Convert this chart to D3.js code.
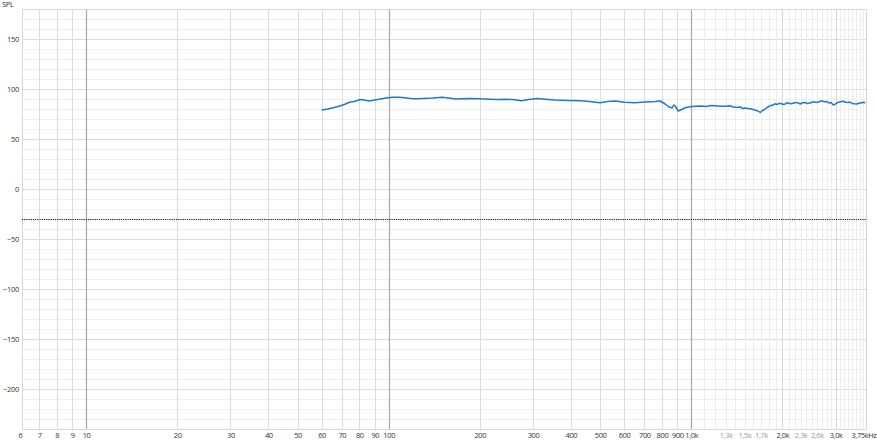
<!DOCTYPE html>
<html><head><meta charset="utf-8">
<script src="https://cdn.jsdelivr.net/npm/d3@7"></script>
<style>
html,body{margin:0;padding:0;background:#fff;}
svg{display:block;font-family:"Noto Sans","DejaVu Sans",sans-serif;}
</style></head><body>
<svg id="c" width="877" height="444"></svg>
<script>
// ---- data ----
const freqs = [60,63,66,69,72,74.6,77,80.5,83,86,90,94,98,103,108,113,118,122,130,140,150,158,166,175,185,200,215,228,245,262,275,290,310,330,355,390,430,460,500,530,561,600,653,700,760,790,820,845,865,875,885,906,930,955,1000,1040,1071,1120,1160,1200,1250,1300,1340,1377,1420,1450,1480,1508,1540,1580,1610,1640,1670,1690,1710,1730,1760,1780,1820,1866,1890,1920,1950,1980,2010,2045,2070,2100,2140,2180,2230,2293,2330,2380,2420,2472,2510,2560,2610,2669,2710,2750,2800,2850,2900,2946,3000,3050,3110,3178,3240,3300,3350,3400,3460,3536,3590,3650,3700,3760];
const spl   = [79,80,81.5,83,85,87,87.5,89.5,89,88,89,90,91,91.7,91.8,91.3,90.6,90.2,90.5,91,91.7,91,90,90.3,90.6,90.3,89.8,89.5,89.8,89.2,88.2,89.5,90.5,89.8,89,88.6,88.3,87.5,86.3,87.5,88,86.8,86.3,87,87.5,88,85,82,81,84,83,78,79.5,81.3,82.5,82.8,83,82.6,83.4,83.3,82.7,82.8,83.3,82,81.6,82.2,80.5,81,80.4,80,79.2,78.5,77.6,76.5,77.8,79,80.2,81.5,83.2,84,85.2,84.5,85.6,85.5,84.6,85,86.2,85.8,85.2,86,86.6,85,86.3,86.5,85.6,86,87.1,87,86.6,87.7,88.2,87.2,87.6,86,86.4,84,85.2,86.5,87.2,87.7,86.8,86.5,86.9,85.5,85.2,85,86.1,86,86.8,86.3];
const refLevel = -30;
const yTicks = [150,100,50,0,-50,-100,-150,-200];
const xTickVals = [6,7,8,9,10,20,30,40,50,60,70,80,90,100,200,300,400,500,600,700,800,900,1000,1300,1500,1700,2000,2300,2600,3000,3750];
const xTickText = ["6","7","8","9","10","20","30","40","50","60","70","80","90","100","200","300","400","500","600","700","800","900","1,0k","1,3k","1,5k","1,7k","2,0k","2,3k","2,6k","3,0k","3,75kHz"];
const lightLabels = [1300,1500,1700,2300,2600];

// ---- layout ----
const L = 22, R = 866, T = 9, B = 429;
const x = d3.scaleLog().domain([6.14, 3780]).range([L, R]);
const y = d3.scaleLinear().domain([180, -240]).range([T, B]);
const svg = d3.select("#c");
const FONT = "'Open Sans', 'Noto Sans', sans-serif";

// grid: horizontal
const hLines = d3.range(-240, 181, 10);
svg.append("g").selectAll("line").data(hLines).join("line")
  .attr("x1", L).attr("x2", R)
  .attr("y1", d => y(d) + 0.5).attr("y2", d => y(d) + 0.5)
  .attr("stroke", d => d % 50 === 0 ? "#dcdcdc" : "#f0f0f0").attr("stroke-width", 1);

// grid: vertical
const vMinor = [];
[7,8,9].forEach(v => vMinor.push(v));
for (let d of [10,100]) for (let m = 2; m <= 9; m++) vMinor.push(d*m);
for (let f = 1100; f <= 3700; f += 100) vMinor.push(f);
svg.append("g").selectAll("line").data(vMinor).join("line")
  .attr("x1", d => Math.round(x(d)) + 0.5).attr("x2", d => Math.round(x(d)) + 0.5)
  .attr("y1", T).attr("y2", B)
  .attr("stroke", d => d > 1000 ? (d % 1000 === 0 ? "#d6d6d6" : "#ececec") : "#dcdcdc").attr("stroke-width", 1);
svg.append("g").selectAll("line").data([10,100,1000]).join("line")
  .attr("x1", d => Math.round(x(d)) + 0.5).attr("x2", d => Math.round(x(d)) + 0.5)
  .attr("y1", T).attr("y2", B)
  .attr("stroke", "#a8a8a8").attr("stroke-width", 1.2);

// frame
svg.append("rect").attr("x", L + 0.5).attr("y", T + 0.5).attr("width", R - L).attr("height", B - T)
  .attr("fill", "none").attr("stroke", "#d6d6d6");

// axes
const yAxis = d3.axisLeft(y).tickValues(yTicks).tickSize(0).tickPadding(3);
const gy = svg.append("g").attr("transform", `translate(${L},0)`).call(yAxis);
gy.select(".domain").remove();
gy.selectAll("text").attr("font-size", 7.5).attr("fill", "#333").attr("font-family", FONT).attr("letter-spacing", -0.3);

const xAxis = d3.axisBottom(x).tickValues(xTickVals).tickSize(0).tickPadding(4)
  .tickFormat((d, i) => xTickText[i]);
const gx = svg.append("g").attr("transform", `translate(0,${B})`).call(xAxis);
gx.select(".domain").remove();
gx.selectAll("text").attr("font-size", 7.5).attr("font-family", FONT).attr("letter-spacing", -0.4)
  .attr("fill", d => lightLabels.includes(d) ? "#9a9a9a" : "#333");
gx.selectAll(".tick").filter(d => d === 6).select("text").attr("text-anchor", "middle").attr("dx", 1);
gx.selectAll(".tick").filter(d => d === 3750).select("text").attr("text-anchor", "end").attr("dx", 11);

svg.append("text").attr("x", 2).attr("y", 7).attr("font-size", 7.5).attr("font-family", FONT)
  .attr("letter-spacing", -0.3).attr("fill", "#333").text("SPL");

// reference dotted line
svg.append("line").attr("x1", L).attr("x2", R).attr("y1", y(refLevel) + 0.5).attr("y2", y(refLevel) + 0.5)
  .attr("stroke", "#111").attr("stroke-width", 1.1).attr("stroke-dasharray", "1.1,1.1");

// curve
const pts = freqs.map((f, i) => [f, spl[i]]);
svg.append("path").datum(pts)
  .attr("fill", "none").attr("stroke", "#1f78c8").attr("stroke-width", 1.5).attr("stroke-linejoin", "round")
  .attr("d", d3.line().x(d => x(d[0])).y(d => y(d[1])));
</script></body></html>
